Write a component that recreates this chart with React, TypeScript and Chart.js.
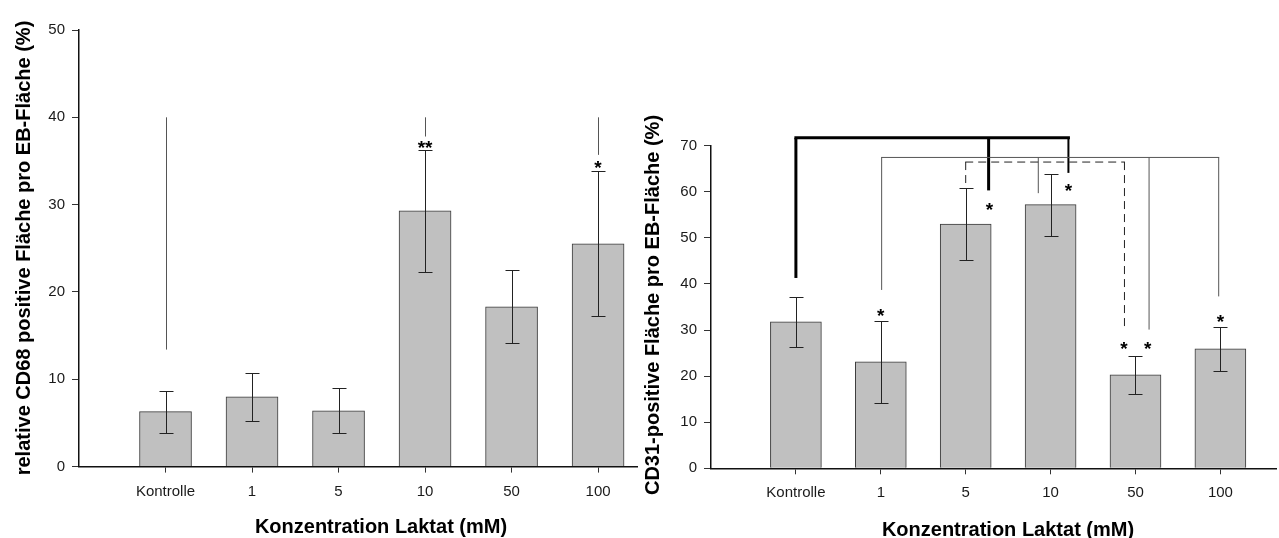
import React, { useEffect, useRef } from 'react';
import { Chart, registerables } from 'chart.js';

Chart.register(...registerables);

// ---------- data ----------
const categories = ['Kontrolle', '1', '5', '10', '50', '100'];

const cd68Means = [6.3, 8.0, 6.4, 29.3, 18.3, 25.5];
const cd68Err = [2.4, 2.75, 2.6, 7.0, 4.2, 8.3];
const cd68Ticks = [0, 10, 20, 30, 40, 50];

const cd31Means = [31.8, 23.1, 53.0, 57.2, 20.3, 25.9];
const cd31Err = [5.4, 8.9, 7.75, 6.7, 4.15, 4.7];
const cd31Ticks = [0, 10, 20, 30, 40, 50, 60, 70];

// significance marks (x = category position 1..6, y = data value)
const cd68SigLines = [
  { x: 1, from: 13.4, to: 40 },
  { x: 4, from: 37.8, to: 40 },
  { x: 6, from: 35.7, to: 40 },
];
const cd68Stars = [
  { x: 4, y: 37.1, text: '**' },
  { x: 6, y: 34.8, text: '*' },
];

const cd31BracketThick = { level: 71.7, legs: [[1, 41.3], [3.27, 60.3], [4.21, 64.1]] };
const cd31BracketThin = { level: 67.45, legs: [[2.01, 38.7], [3.855, 59.7], [5.16, 30.1], [5.98, 37.3]] };
const cd31BracketDashed = { level: 66.45, legs: [[3.0, 61.9], [4.87, 30.1]] };
const cd31Stars = [
  { x: 2.0, y: 34.2, text: '*' },
  { x: 3.28, y: 57.2, text: '*' },
  { x: 4.21, y: 61.15, text: '*' },
  { x: 4.865, y: 26.9, text: '*' },
  { x: 5.144, y: 26.9, text: '*' },
  { x: 6.0, y: 32.85, text: '*' },
];

const xTitle = 'Konzentration Laktat (mM)';
const cd68Title = 'relative CD68 positive Fläche pro EB-Fläche (%)';
const cd31Title = 'CD31-positive Fläche pro EB-Fläche (%)';

// ---------- styles ----------
const TICK_FONT = { family: '"Liberation Sans", Arial, sans-serif', size: 15 };
const TITLE_FONT = 'bold 20px "Liberation Sans", Arial, sans-serif';
const STAR_FONT = 'bold 19px "Liberation Sans", Arial, sans-serif';
const BAR_FILL = '#c0c0c0';
const BAR_BORDER = '#3a3a3a';

type Bracket = { level: number; legs: number[][] };

type PanelCfg = {
  means: number[];
  err: number[];
  ticks: number[];
  xMax: number;
  padTop: number;
  yAxisWidth: number;
  xAxisHeight: number;
  barThickness: number;
  sigLines: { x: number; from: number; to: number }[];
  stars: { x: number; y: number; text: string }[];
  brackets: { b: Bracket; width: number; legWidths?: number[]; dash: number[]; color: string }[];
  yTitle: string;
  yTitleX: number;
  yTitleY: number;
  xTitleX: number;
  xTitleY: number;
};

function buildChart(canvas: HTMLCanvasElement, cfg: PanelCfg) {
  const overlay = {
    id: 'overlay',
    afterDatasetsDraw(chart: any) {
      const { ctx } = chart;
      const xs = chart.scales.x;
      const ys = chart.scales.y;
      const px = (v: number) => xs.getPixelForValue(v);
      const py = (v: number) => ys.getPixelForValue(v);
      ctx.save();
      // error bars
      ctx.strokeStyle = '#222';
      ctx.lineWidth = 1;
      const cap = 7;
      cfg.means.forEach((m, i) => {
        const x = Math.round(px(i + 1)) + 0.5;
        const hi = Math.round(py(m + cfg.err[i])) + 0.5;
        const lo = Math.round(py(m - cfg.err[i])) + 0.5;
        ctx.beginPath();
        ctx.moveTo(x, lo);
        ctx.lineTo(x, hi);
        ctx.moveTo(x - cap, hi);
        ctx.lineTo(x + cap, hi);
        ctx.moveTo(x - cap, lo);
        ctx.lineTo(x + cap, lo);
        ctx.stroke();
      });
      // simple vertical significance lines
      ctx.strokeStyle = '#555';
      cfg.sigLines.forEach((l) => {
        const x = Math.round(px(l.x)) + 0.5;
        ctx.beginPath();
        ctx.moveTo(x, py(l.from));
        ctx.lineTo(x, py(l.to));
        ctx.stroke();
      });
      // brackets
      cfg.brackets.forEach(({ b, width, legWidths, dash, color }) => {
        ctx.strokeStyle = color;
        ctx.setLineDash(dash);
        const xsL = b.legs.map((l) => px(l[0]));
        const yTop = py(b.level);
        ctx.lineWidth = width;
        ctx.beginPath();
        ctx.moveTo(Math.min(...xsL) - width / 2, yTop);
        ctx.lineTo(Math.max(...xsL) + width / 2, yTop);
        ctx.stroke();
        b.legs.forEach((l, k) => {
          ctx.lineWidth = legWidths ? legWidths[k] : width;
          ctx.beginPath();
          ctx.moveTo(px(l[0]), yTop);
          ctx.lineTo(px(l[0]), py(l[1]));
          ctx.stroke();
        });
      });
      ctx.setLineDash([]);
      // stars
      ctx.fillStyle = '#000';
      ctx.font = STAR_FONT;
      ctx.textAlign = 'center';
      ctx.textBaseline = 'alphabetic';
      cfg.stars.forEach((s) => {
        ctx.fillText(s.text, px(s.x), py(s.y) + 11);
      });
      ctx.restore();
    },
    afterDraw(chart: any) {
      const { ctx } = chart;
      ctx.save();
      ctx.fillStyle = '#000';
      ctx.font = TITLE_FONT;
      ctx.textAlign = 'center';
      ctx.textBaseline = 'alphabetic';
      ctx.fillText(xTitle, cfg.xTitleX, cfg.xTitleY);
      ctx.translate(cfg.yTitleX, cfg.yTitleY);
      ctx.rotate(-Math.PI / 2);
      ctx.textBaseline = 'middle';
      ctx.fillText(cfg.yTitle, 0, 0);
      ctx.restore();
    },
  };

  return new Chart(canvas, {
    type: 'bar',
    data: {
      datasets: [
        {
          data: cfg.means.map((m, i) => ({ x: i + 1, y: m })),
          backgroundColor: BAR_FILL,
          borderColor: BAR_BORDER,
          borderWidth: 1,
          barThickness: cfg.barThickness,
        },
      ],
    },
    options: {
      responsive: false,
      animation: false,
      devicePixelRatio: 1,
      layout: { padding: { top: cfg.padTop, right: 3, left: 0, bottom: 0 } },
      plugins: { legend: { display: false }, tooltip: { enabled: false } },
      scales: {
        x: {
          type: 'linear',
          offset: false,
          min: 0,
          max: cfg.xMax,
          afterBuildTicks: (s: any) => {
            s.ticks = categories.map((_, i) => ({ value: i + 1 }));
          },
          afterFit: (s: any) => {
            s.height = cfg.xAxisHeight;
          },
          ticks: {
            autoSkip: false,
            maxRotation: 0,
            padding: 10,
            color: '#1a1a1a',
            font: TICK_FONT,
            callback: (v: any) => categories[Math.round(Number(v)) - 1] ?? '',
          },
          grid: { offset: false, drawOnChartArea: false, drawTicks: true, tickLength: 6, color: '#333' },
          border: { display: true, color: '#111', width: 1.5 },
        },
        y: {
          type: 'linear',
          min: cfg.ticks[0],
          max: cfg.ticks[cfg.ticks.length - 1],
          afterBuildTicks: (s: any) => {
            s.ticks = cfg.ticks.map((v) => ({ value: v }));
          },
          afterFit: (s: any) => {
            s.width = cfg.yAxisWidth;
          },
          ticks: { padding: 7, color: '#1a1a1a', font: TICK_FONT },
          grid: { drawOnChartArea: false, drawTicks: true, tickLength: 7, color: '#333' },
          border: { display: true, color: '#111', width: 1.5 },
        },
      },
    },
    plugins: [overlay],
  } as any);
}

export default function App() {
  const leftRef = useRef<HTMLCanvasElement>(null);
  const rightRef = useRef<HTMLCanvasElement>(null);

  useEffect(() => {
    document.body.style.margin = '0';
    const left = buildChart(leftRef.current!, {
      means: cd68Means,
      err: cd68Err,
      ticks: cd68Ticks,
      xMax: 6.45,
      padTop: 30,
      yAxisWidth: 79,
      xAxisHeight: 538 - 466.6,
      barThickness: 52,
      sigLines: cd68SigLines,
      stars: cd68Stars,
      brackets: [],
      yTitle: cd68Title,
      yTitleX: 24,
      yTitleY: 248,
      xTitleX: 381,
      xTitleY: 533,
    });
    const right = buildChart(rightRef.current!, {
      means: cd31Means,
      err: cd31Err,
      ticks: cd31Ticks,
      xMax: 6.655,
      padTop: 145.7,
      yAxisWidth: 71,
      xAxisHeight: 538 - 468.3,
      barThickness: 51,
      sigLines: [],
      stars: cd31Stars,
      brackets: [
        { b: cd31BracketThick, width: 3, legWidths: [3, 3, 2], dash: [], color: '#000' },
        { b: cd31BracketThin, width: 1, dash: [], color: '#555' },
        { b: cd31BracketDashed, width: 1, dash: [8, 5], color: '#222' },
      ],
      yTitle: cd31Title,
      yTitleX: 13,
      yTitleY: 305,
      xTitleX: 368,
      xTitleY: 536,
    });
    return () => {
      left.destroy();
      right.destroy();
    };
  }, []);

  return (
    <div style={{ position: 'relative', width: 1279, height: 538, overflow: 'hidden', background: '#fff' }}>
      <canvas ref={leftRef} width={640} height={538} style={{ position: 'absolute', left: 0, top: 0 }} />
      <canvas ref={rightRef} width={639} height={538} style={{ position: 'absolute', left: 640, top: 0 }} />
    </div>
  );
}
